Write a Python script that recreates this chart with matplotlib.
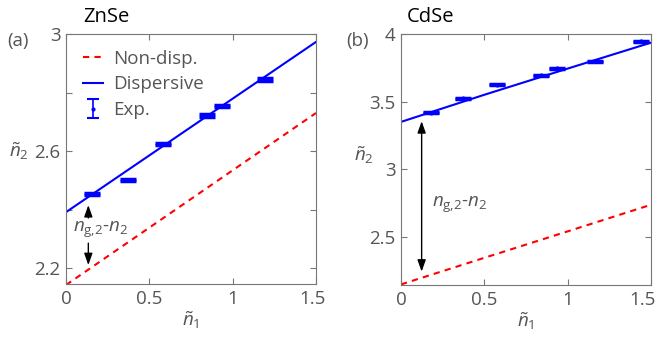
import matplotlib
matplotlib.use("Agg")
import matplotlib.pyplot as plt
import matplotlib.transforms as mtransforms
from matplotlib.lines import Line2D
import numpy as np

plt.rcParams['font.family'] = ['Open Sans', 'DejaVu Sans']
plt.rcParams['mathtext.fontset'] = 'custom'
plt.rcParams['mathtext.rm'] = 'Open Sans'
plt.rcParams['mathtext.it'] = 'Open Sans:italic'

# ---- data ----
znse_x_line = [0.0, 0.75, 1.5]
znse_disp = [2.391, 2.682, 2.973]
znse_nondisp = [2.142, 2.436, 2.730]
znse_exp_x = [0.154, 0.37, 0.584, 0.844, 0.938, 1.194]
znse_exp_y = [2.454, 2.501, 2.623, 2.722, 2.755, 2.845]

cdse_x_line = [0.0, 0.5, 1.0, 1.5]
cdse_disp = [3.349, 3.550, 3.744, 3.936]
cdse_nondisp = [2.145, 2.342, 2.538, 2.735]
cdse_exp_x = [0.178, 0.374, 0.575, 0.839, 0.935, 1.166, 1.44]
cdse_exp_y = [3.416, 3.524, 3.626, 3.695, 3.747, 3.797, 3.948]

gray = '#555555'
FS = 13.5
fig = plt.figure(figsize=(6.62, 3.37), dpi=100)
axa = fig.add_axes([0.0997, 0.157, 0.3776, 0.742])
axb = fig.add_axes([0.6057, 0.154, 0.3776, 0.745])

def style(ax):
    for s in ax.spines.values():
        s.set_color('#777777')
        s.set_linewidth(0.8)
    ax.tick_params(direction='in', length=4, width=0.8, color='#777777',
                   labelcolor=gray, labelsize=FS, top=True, right=True, pad=4)

for ax, xl, d, nd, ex, ey in [(axa, znse_x_line, znse_disp, znse_nondisp, znse_exp_x, znse_exp_y),
                              (axb, cdse_x_line, cdse_disp, cdse_nondisp, cdse_exp_x, cdse_exp_y)]:
    ax.plot(xl, nd, '--', color='red', lw=1.5, dashes=(3, 2.5), label='Non-disp.')
    ax.plot(xl, d, '-', color='blue', lw=1.5, label='Dispersive')
    ax.errorbar(ex, ey, yerr=0.004, fmt='.', color='blue', ms=4, capsize=6,
                capthick=2.5, elinewidth=1.2, label='Exp.')
    ax.set_xlim(0, 1.5)
    ax.set_xticks([0, 0.5, 1, 1.5])
    ax.set_xticklabels(['0', '0.5', '1', '1.5'])
    ax.set_xlabel(r'$\tilde{n}_1$', fontsize=FS, color=gray, labelpad=1)
    style(ax)

axa.set_ylim(2.145, 3.0)
axa.set_yticks([2.2, 2.4, 2.6, 2.8, 3.0])
axa.set_yticklabels(['2.2', '', '2.6', '', '3'])
axb.set_ylim(2.14, 4.0)
axb.set_yticks([2.5, 3, 3.5, 4])
axb.set_yticklabels(['2.5', '3', '3.5', '4'])

# shift last x tick labels slightly left (as in reference)
for ax, dx in [(axa, -3), (axb, -8)]:
    lab = ax.get_xticklabels()[-1]
    lab.set_transform(lab.get_transform() + mtransforms.ScaledTranslation(dx / 100, 0, fig.dpi_scale_trans))

fig.text(9/662, 1-151/337, r'$\tilde{n}_2$', fontsize=FS, color=gray, va='center', ha='left')
fig.text(354/662, 1-155/337, r'$\tilde{n}_2$', fontsize=FS, color=gray, va='center', ha='left')

fig.text(83/662, 1-17/337, 'ZnSe', fontsize=14.5, color='black', va='center', ha='left')
fig.text(407/662, 1-17/337, 'CdSe', fontsize=14.5, color='black', va='center', ha='left')
fig.text(7/662, 1-41/337, '(a)', fontsize=FS, color=gray, va='center', ha='left')
fig.text(346/662, 1-41/337, '(b)', fontsize=FS, color=gray, va='center', ha='left')

leg = axa.legend(loc='upper left', frameon=False, fontsize=FS, handlelength=1.1,
                 borderaxespad=0.0, labelspacing=0.42, handletextpad=0.5,
                 bbox_to_anchor=(0.037, 0.968))
for t in leg.get_texts():
    t.set_color(gray)
for ln in leg.findobj(Line2D):
    if ln.get_marker() == '_':
        ln.set_markersize(9)
        ln.set_markeredgewidth(1.5)

label = r'$n_{\mathrm{g}{,}\mathrm{2}}$-$n_{\mathrm{2}}$'
astyle = '-|>,head_length=0.7,head_width=0.25'
arrowkw = dict(arrowstyle=astyle, color='black', lw=1.0, mutation_scale=10, shrinkA=0, shrinkB=0)
axa.annotate('', xy=(0.134, 2.415), xytext=(0.134, 2.371), arrowprops=arrowkw)
axa.annotate('', xy=(0.134, 2.210), xytext=(0.134, 2.285), arrowprops=arrowkw)
axa.text(0.042, 2.33, label, fontsize=FS, color=gray, ha='left', va='center')

axb.annotate('', xy=(0.124, 3.354), xytext=(0.124, 2.24),
             arrowprops=dict(arrowstyle='<|-|>,head_length=0.7,head_width=0.25', color='black',
                             lw=1.0, mutation_scale=10, shrinkA=0, shrinkB=0))
axb.text(0.188, 2.735, label, fontsize=FS, color=gray, ha='left', va='center')

fig.savefig('out.png', dpi=100)
